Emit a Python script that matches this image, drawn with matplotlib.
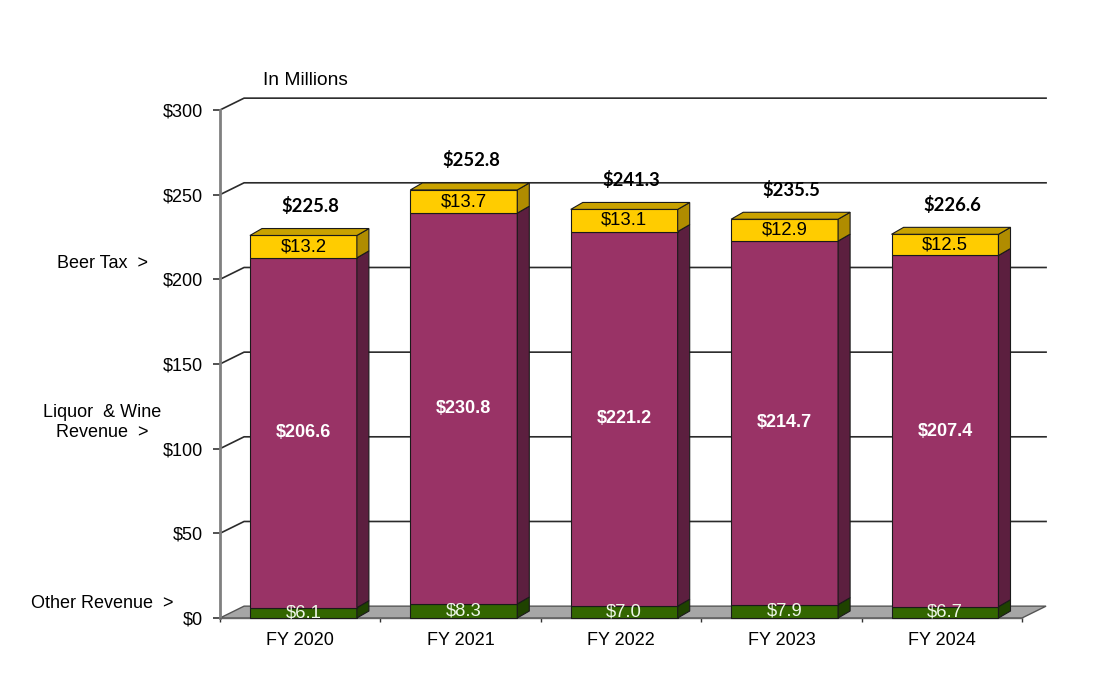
import matplotlib
matplotlib.use("Agg")
import matplotlib.pyplot as plt
from matplotlib.patches import Polygon, Rectangle
from matplotlib.ticker import FuncFormatter

years = ["FY 2020", "FY 2021", "FY 2022", "FY 2023", "FY 2024"]
other_rev = [6.1, 8.3, 7.0, 7.9, 6.7]
liquor_wine = [206.6, 230.8, 221.2, 214.7, 207.4]
beer_tax = [13.2, 13.7, 13.1, 12.9, 12.5]
totals = [225.8, 252.8, 241.3, 235.5, 226.6]
y_ticks = [0, 50, 100, 150, 200, 250, 300]

# fill colours: (front, side, top)
green = ("#336600", "#1f4200", "#2a5500")
purple = ("#993366", "#5c1f3f", "#7a2850")
yellow = ("#ffcc00", "#b08c00", "#c9a200")

plt.rcParams['font.family'] = ['Liberation Sans', 'DejaVu Sans']

fig = plt.figure(figsize=(11.1, 6.99), dpi=100)
ax = fig.add_axes([220 / 1110, 81 / 699, 802 / 1110, 508 / 699])
ax.set_xlim(-0.5, 4.5)
ax.set_ylim(0, 300)

# depth of the back wall and of the bars (data units)
wall_dx, wall_dy = 0.15, 7.0
bar_dx, bar_dy = 0.075, 4.1
half_w = 1 / 3
shift = 0.02

# floor
ax.add_patch(Polygon([(-0.5, 0), (-0.5 + wall_dx, wall_dy), (4.5 + wall_dx, wall_dy), (4.5, 0)],
                     closed=True, facecolor="#a6a6a6", edgecolor="#555555", lw=1, clip_on=False, zorder=1))

# back wall gridlines
for v in y_ticks[1:]:
    ax.plot([-0.5, -0.5 + wall_dx, 4.5 + wall_dx], [v, v + wall_dy, v + wall_dy],
            color="#2b2b2b", lw=1.2, clip_on=False, zorder=1)

# bars
for i in range(len(years)):
    c = i + shift
    left, right = c - half_w, c + half_w
    base = 0
    segs = [(other_rev[i], green), (liquor_wine[i], purple), (beer_tax[i], yellow)]
    for h, cols in segs:
        ax.add_patch(Rectangle((left, base), right - left, h, facecolor=cols[0],
                               edgecolor="#1a1a1a", lw=0.8, clip_on=False, zorder=3))
        ax.add_patch(Polygon([(right, base), (right + bar_dx, base + bar_dy),
                              (right + bar_dx, base + h + bar_dy), (right, base + h)],
                             closed=True, facecolor=cols[1], edgecolor="#1a1a1a", lw=0.8,
                             clip_on=False, zorder=3))
        base += h
    top_col = segs[-1][1][2]
    ax.add_patch(Polygon([(left, base), (left + bar_dx, base + bar_dy),
                          (right + bar_dx, base + bar_dy), (right, base)],
                         closed=True, facecolor=top_col, edgecolor="#1a1a1a", lw=0.8,
                         clip_on=False, zorder=3))

    # value labels
    ax.text(c, other_rev[i] / 2, f"${other_rev[i]:.1f}", ha="center", va="center",
            color="#eef6e8", fontsize=13.3, zorder=5)
    ax.text(c, other_rev[i] + liquor_wine[i] / 2, f"${liquor_wine[i]:.1f}", ha="center",
            va="center", color="white", fontsize=13, fontweight="bold", zorder=5)
    ax.text(c, other_rev[i] + liquor_wine[i] + beer_tax[i] / 2, f"${beer_tax[i]:.1f}",
            ha="center", va="center", color="black", fontsize=13.3, zorder=5)
    ax.text(c + 0.045, totals[i] + 17.5, f"${totals[i]:.1f}", ha="center", va="center",
            color="black", fontsize=13.3, fontweight="bold", family=["Lato", "DejaVu Sans"],
            zorder=5)

# axes styling
for s in ["top", "right"]:
    ax.spines[s].set_visible(False)
ax.spines["left"].set_color("#808080")
ax.spines["left"].set_linewidth(2)
ax.spines["bottom"].set_color("#666666")
ax.spines["bottom"].set_linewidth(1)
ax.set_yticks(y_ticks)
ax.yaxis.set_major_formatter(FuncFormatter(lambda v, p: f"${int(v)}"))
ax.tick_params(axis="y", direction="out", length=5, width=1.2, color="#333333",
               pad=7, labelsize=13)
ax.set_xticks(range(len(years)))
ax.set_xticklabels(years)
ax.set_xticks([i - 0.5 for i in range(len(years) + 1)], minor=True)
ax.tick_params(axis="x", which="major", length=0, pad=10, labelsize=13)
ax.tick_params(axis="x", which="minor", direction="out", length=3, width=1, color="#333333")
ax.patch.set_visible(False)

# side annotations
ax.text(-0.232, 317.5, "In Millions", ha="left", va="center", fontsize=13.8)
lx = -1.235
ax.text(lx, 209.5, "Beer Tax  >", ha="center", va="center", fontsize=13, clip_on=False)
ax.text(lx, 115.5, "Liquor  & Wine\nRevenue  >", ha="center", va="center", fontsize=13,
        linespacing=1.25, clip_on=False)
ax.text(lx, 8.3, "Other Revenue  >", ha="center", va="center", fontsize=13, clip_on=False)

fig.savefig("out.png", dpi=100)
